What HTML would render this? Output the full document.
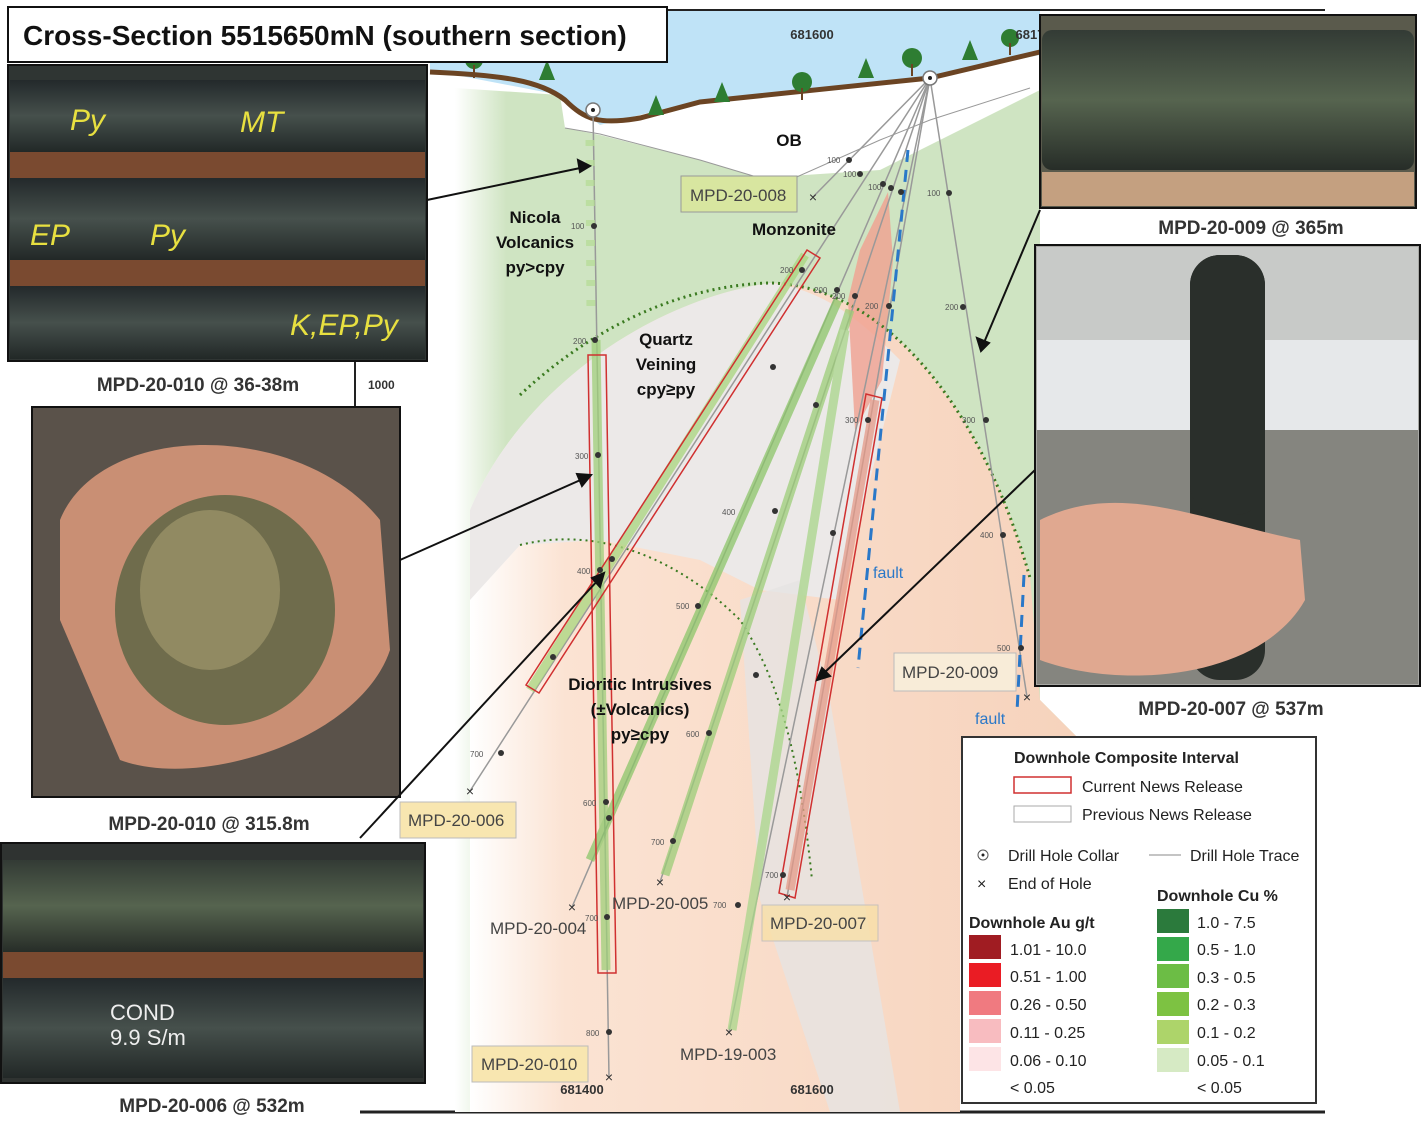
<!DOCTYPE html>
<html><head><meta charset="utf-8"><style>
html,body{margin:0;padding:0;background:#fff}
svg{display:block}
text{font-family:"Liberation Sans",sans-serif}
</style></head><body>
<svg width="1422" height="1130" viewBox="0 0 1422 1130" xmlns="http://www.w3.org/2000/svg">
<defs>
<linearGradient id="gfade" x1="0" x2="1" y1="0" y2="0"><stop offset="0" stop-color="#fff"/><stop offset="0.08" stop-color="#cfe4c2"/><stop offset="1" stop-color="#cfe4c2"/></linearGradient>
<linearGradient id="ofade" x1="0" x2="1" y1="0" y2="0"><stop offset="0" stop-color="#fff"/><stop offset="0.15" stop-color="#fbe3d3"/><stop offset="1" stop-color="#f6d2bb"/></linearGradient>
<linearGradient id="core" x1="0" y1="0" x2="0" y2="1"><stop offset="0" stop-color="#23292b"/><stop offset="0.5" stop-color="#46504c"/><stop offset="1" stop-color="#222827"/></linearGradient>
<linearGradient id="core2" x1="0" y1="0" x2="0" y2="1"><stop offset="0" stop-color="#333b35"/><stop offset="0.5" stop-color="#56644f"/><stop offset="1" stop-color="#272d28"/></linearGradient>
</defs>
<line x1="430" y1="10" x2="1325" y2="10" stroke="#222" stroke-width="2"/>
<line x1="360" y1="1112" x2="1325" y2="1112" stroke="#222" stroke-width="3"/>
<line x1="355" y1="360" x2="355" y2="407" stroke="#222" stroke-width="2"/>
<path d="M430 11 H1040 V55 L930 78 L700 100 L600 125 L560 95 L430 70 Z" fill="#bfe3f7"/>
<path d="M455 88 L560 95 L600 125 L700 100 L930 78 L1040 55 V700 L1100 760 H960 V1112 H455 Z" fill="url(#gfade)"/>
<path d="M560 95 L600 125 L700 100 L930 78 L1040 55 L1040 90 L880 170 L760 178 L700 160 L600 135 L565 128 Z" fill="#fff"/>
<path d="M470 510 C520 390 650 300 770 283 C880 285 980 400 1030 575 L1040 700 L1100 760 H960 V1112 H470 Z" fill="url(#ofade)"/>
<path d="M470 510 C520 390 650 300 770 283 C830 290 870 330 900 360 L840 600 L760 590 L700 560 L600 540 L520 545 L470 600 Z" fill="#ece9e8"/>
<path d="M740 600 L800 580 L830 700 L900 1112 H830 L760 900 Z" fill="#e6e3e2" opacity="0.8"/>
<path d="M430 72 C500 75 540 80 565 100 C585 120 600 125 640 118 L700 102 L930 78 L1040 52" fill="none" stroke="#6b4423" stroke-width="5"/>
<g fill="#2e7d32">
<polygon points="547,60 539,80 555,80"/><polygon points="656,95 648,115 664,115"/><polygon points="722,82 714,102 730,102"/><polygon points="866,58 858,78 874,78"/><polygon points="970,40 962,60 978,60"/>
<circle cx="474" cy="60" r="9"/><circle cx="802" cy="82" r="10"/><circle cx="912" cy="58" r="10"/><circle cx="1010" cy="38" r="9"/>
</g>
<g stroke="#6b4423" stroke-width="2"><line x1="474" y1="65" x2="474" y2="78"/><line x1="802" y1="88" x2="802" y2="100"/><line x1="912" y1="64" x2="912" y2="76"/><line x1="1010" y1="43" x2="1010" y2="55"/></g>
<path d="M565 128 L600 134 L700 160 L760 178 L790 180 L880 140 L930 120 L1030 88" fill="none" stroke="#999" stroke-width="1"/>
<polygon points="860,250 888,192 893,260 882,380 855,430 848,300" fill="#f0a090" opacity="0.8"/>
<path d="M520 395 C600 320 690 285 770 283 C880 285 980 400 1030 578" fill="none" stroke="#3a7a20" stroke-width="3" stroke-dasharray="2 4"/>
<path d="M520 545 C600 525 680 560 740 620 C780 680 800 760 812 880" fill="none" stroke="#3a7a20" stroke-width="2" stroke-dasharray="2 4"/>
<g stroke="#999" stroke-width="1.5" fill="none">
<line x1="593" y1="110" x2="609" y2="1077"/>
<line x1="930" y1="78" x2="813" y2="197"/>
<line x1="930" y1="78" x2="470" y2="791"/>
<line x1="930" y1="78" x2="572" y2="907"/>
<line x1="930" y1="78" x2="660" y2="882"/>
<line x1="930" y1="78" x2="729" y2="1032"/>
<line x1="930" y1="78" x2="787" y2="897"/>
<line x1="930" y1="78" x2="1027" y2="697"/>
</g>
<g stroke-width="9" stroke-linecap="butt" opacity="0.75">
<line x1="596" y1="340" x2="606" y2="970" stroke="#9fcf7a"/>
<line x1="805" y1="255" x2="530" y2="690" stroke="#a9d67e"/>
<line x1="838" y1="300" x2="590" y2="860" stroke="#8cc66a"/>
<line x1="850" y1="310" x2="665" y2="875" stroke="#9ccd78"/>
<line x1="845" y1="330" x2="732" y2="1030" stroke="#a9d68a"/>
<line x1="875" y1="400" x2="790" y2="890" stroke="#e59a88"/>
<line x1="590" y1="140" x2="591" y2="320" stroke="#b6dc96" stroke-dasharray="6 14"/>
</g>
<g fill="none" stroke="#d03030" stroke-width="1.5">
<polygon points="807,250 820,258 539,693 526,685"/>
<polygon points="588,355 606,355 616,973 598,973"/>
<polygon points="866,394 882,398 795,898 779,893"/>
</g>
<line x1="908" y1="150" x2="858" y2="668" stroke="#2a78c8" stroke-width="3" stroke-dasharray="12 8"/>
<line x1="1024" y1="575" x2="1017" y2="712" stroke="#2a78c8" stroke-width="3" stroke-dasharray="12 8"/>
<text x="873" y="578" font-size="16" fill="#2a78c8">fault</text>
<text x="975" y="724" font-size="16" fill="#2a78c8">fault</text>
<g fill="#fff" stroke="#777" stroke-width="1.5"><circle cx="593" cy="110" r="7"/><circle cx="930" cy="78" r="7"/></g>
<circle cx="593" cy="110" r="2" fill="#222"/><circle cx="930" cy="78" r="2" fill="#222"/>
<g fill="#333">
<circle cx="594" cy="226" r="3"/><circle cx="595" cy="340" r="3"/><circle cx="598" cy="455" r="3"/><circle cx="600" cy="570" r="3"/><circle cx="606" cy="802" r="3"/><circle cx="607" cy="917" r="3"/><circle cx="609" cy="1032" r="3"/>
<circle cx="849" cy="160" r="3"/><circle cx="860" cy="174" r="3"/><circle cx="883" cy="184" r="3"/><circle cx="891" cy="188" r="3"/><circle cx="901" cy="192" r="3"/><circle cx="949" cy="193" r="3"/>
<circle cx="802" cy="270" r="3"/><circle cx="773" cy="367" r="3"/><circle cx="612" cy="559" r="3"/><circle cx="553" cy="657" r="3"/><circle cx="501" cy="753" r="3"/>
<circle cx="837" cy="290" r="3"/><circle cx="816" cy="405" r="3"/><circle cx="698" cy="606" r="3"/><circle cx="609" cy="818" r="3"/>
<circle cx="855" cy="296" r="3"/><circle cx="775" cy="511" r="3"/><circle cx="709" cy="733" r="3"/><circle cx="673" cy="841" r="3"/>
<circle cx="889" cy="306" r="3"/><circle cx="833" cy="533" r="3"/><circle cx="756" cy="675" r="3"/><circle cx="738" cy="905" r="3"/>
<circle cx="868" cy="420" r="3"/><circle cx="783" cy="875" r="3"/>
<circle cx="963" cy="307" r="3"/><circle cx="986" cy="420" r="3"/><circle cx="1003" cy="535" r="3"/><circle cx="1021" cy="648" r="3"/>
</g>
<g font-size="8" fill="#555">
<text x="571" y="229">100</text><text x="573" y="344">200</text><text x="575" y="459">300</text><text x="577" y="574">400</text><text x="583" y="806">600</text><text x="585" y="921">700</text><text x="586" y="1036">800</text>
<text x="827" y="163">100</text><text x="843" y="177">100</text><text x="868" y="190">100</text><text x="927" y="196">100</text>
<text x="780" y="273">200</text><text x="814" y="293">200</text><text x="832" y="299">200</text><text x="865" y="309">200</text><text x="945" y="310">200</text>
<text x="470" y="757">700</text><text x="676" y="609">500</text><text x="722" y="515">400</text><text x="962" y="423">300</text><text x="980" y="538">400</text><text x="997" y="651">500</text>
<text x="686" y="737">600</text><text x="651" y="845">700</text><text x="713" y="908">700</text><text x="765" y="878">700</text><text x="845" y="423">300</text>
</g>
<g font-size="14" fill="#333" text-anchor="middle">
<text x="813" y="202">×</text><text x="470" y="796">×</text><text x="572" y="912">×</text><text x="660" y="887">×</text><text x="729" y="1037">×</text><text x="787" y="902">×</text><text x="1027" y="702">×</text><text x="609" y="1082">×</text>
</g>
<g font-size="13" font-weight="bold" fill="#333" text-anchor="middle">
<text x="812" y="39">681600</text><text x="1030" y="39">6817</text><text x="582" y="1094">681400</text><text x="812" y="1094">681600</text>
</g>
<text x="368" y="389" font-size="12" font-weight="bold" fill="#333">1000</text>
<g font-size="17" font-weight="bold" fill="#111" text-anchor="middle">
<text x="789" y="146">OB</text>
<text x="535" y="223">Nicola</text><text x="535" y="248">Volcanics</text><text x="535" y="273">py&gt;cpy</text>
<text x="794" y="235">Monzonite</text>
<text x="666" y="345">Quartz</text><text x="666" y="370">Veining</text><text x="666" y="395">cpy≥py</text>
<text x="640" y="690">Dioritic Intrusives</text><text x="640" y="715">(±Volcanics)</text><text x="640" y="740">py≥cpy</text>
</g>
<g font-size="17" fill="#444">
<rect x="681" y="176" width="116" height="36" fill="#d8e6a0" stroke="#999"/><text x="690" y="201">MPD-20-008</text>
<rect x="400" y="802" width="116" height="36" fill="#f8e6b0" stroke="#bbb"/><text x="408" y="826">MPD-20-006</text>
<rect x="472" y="1046" width="116" height="36" fill="#f8e6b0" stroke="#bbb"/><text x="481" y="1070">MPD-20-010</text>
<rect x="762" y="905" width="116" height="36" fill="#f8e0a8" stroke="#bbb" opacity="0.8"/><text x="770" y="929">MPD-20-007</text>
<rect x="894" y="653" width="122" height="38" fill="#f8ecd8" stroke="#bbb"/><text x="902" y="678">MPD-20-009</text>
<text x="490" y="934">MPD-20-004</text><text x="612" y="909">MPD-20-005</text><text x="680" y="1060">MPD-19-003</text>
</g>
<!-- photo 1 -->
<rect x="8" y="65" width="419" height="296" fill="#2f3533" stroke="#111" stroke-width="2"/>
<rect x="10" y="80" width="415" height="72" fill="url(#core)"/><rect x="10" y="152" width="415" height="26" fill="#7a4a30"/>
<rect x="10" y="178" width="415" height="82" fill="url(#core)"/><rect x="10" y="260" width="415" height="26" fill="#7a4a30"/>
<rect x="10" y="286" width="415" height="73" fill="url(#core)"/>
<g font-size="30" fill="#e8e040" font-style="italic"><text x="70" y="130">Py</text><text x="240" y="132">MT</text><text x="30" y="245">EP</text><text x="150" y="245">Py</text><text x="290" y="335">K,EP,Py</text></g>
<!-- photo 2 -->
<rect x="32" y="407" width="368" height="390" fill="#5a524a" stroke="#111" stroke-width="2"/>
<path d="M60 520 C100 420 300 420 380 520 L390 650 C360 740 200 790 120 760 L60 620 Z" fill="#c98f74"/>
<ellipse cx="225" cy="610" rx="110" ry="115" fill="#6f6c4c"/>
<ellipse cx="210" cy="590" rx="70" ry="80" fill="#9a9268" opacity="0.8"/>
<!-- photo 3 -->
<rect x="1" y="843" width="424" height="240" fill="#2f3331" stroke="#111" stroke-width="2"/>
<rect x="3" y="860" width="420" height="92" fill="url(#core2)"/><rect x="3" y="952" width="420" height="26" fill="#7a4a30"/>
<rect x="3" y="978" width="420" height="100" fill="url(#core)"/>
<text x="110" y="1020" font-size="22" fill="#eee">COND</text><text x="110" y="1045" font-size="22" fill="#eee">9.9 S/m</text>
<!-- photo 4 -->
<rect x="1040" y="15" width="376" height="193" fill="#5a5a4c" stroke="#111" stroke-width="2"/>
<rect x="1042" y="30" width="372" height="140" rx="10" fill="url(#core2)"/><rect x="1042" y="172" width="372" height="34" fill="#c4a080"/>
<!-- photo 5 -->
<rect x="1035" y="245" width="385" height="441" fill="#a8a8a4" stroke="#111" stroke-width="2"/>
<rect x="1037" y="247" width="381" height="140" fill="#c8cac8"/>
<rect x="1037" y="340" width="381" height="90" fill="#e6e8ea"/>
<rect x="1037" y="430" width="381" height="254" fill="#85857f"/>
<rect x="1190" y="255" width="75" height="425" rx="30" fill="#2a2f2b"/>
<path d="M1040 520 C1120 480 1200 520 1300 540 L1305 600 C1260 680 1120 690 1040 660 Z" fill="#e0a890"/>
<rect x="1190" y="255" width="75" height="260" rx="30" fill="#2a2f2b"/>
<g stroke="#111" stroke-width="2" fill="#111">
<line x1="427" y1="200" x2="585" y2="167"/><polygon points="590,166 578,160 580,172"/>
<line x1="400" y1="560" x2="585" y2="478"/><polygon points="591,475 577,474 582,486"/>
<line x1="360" y1="838" x2="600" y2="578"/><polygon points="604,573 592,578 600,587"/>
<line x1="1040" y1="210" x2="983" y2="345"/><polygon points="981,351 977,338 989,343"/>
<line x1="1035" y1="470" x2="822" y2="675"/><polygon points="817,680 822,668 830,676"/>
</g>
<g font-size="19" font-weight="bold" fill="#333" text-anchor="middle">
<text x="198" y="391">MPD-20-010 @ 36-38m</text>
<text x="209" y="830">MPD-20-010 @ 315.8m</text>
<text x="212" y="1112">MPD-20-006 @ 532m</text>
<text x="1251" y="234">MPD-20-009 @ 365m</text>
<text x="1231" y="715">MPD-20-007 @ 537m</text>
</g>
<rect x="8" y="7" width="659" height="55" fill="#fff" stroke="#111" stroke-width="2"/>
<text x="23" y="45" font-size="28" font-weight="bold" fill="#111">Cross-Section 5515650mN (southern section)</text>
<rect x="962" y="737" width="354" height="366" fill="#fff" stroke="#333" stroke-width="2"/>
<g font-size="16" fill="#222">
<text x="1014" y="763" font-weight="bold">Downhole Composite Interval</text>
<rect x="1014" y="777" width="57" height="16" fill="none" stroke="#d03030" stroke-width="1.5"/><text x="1082" y="792">Current News Release</text>
<rect x="1014" y="806" width="57" height="16" fill="none" stroke="#aaa"/><text x="1082" y="820">Previous News Release</text>
<circle cx="983" cy="855" r="5" fill="none" stroke="#555"/><circle cx="983" cy="855" r="1.5" fill="#222"/><text x="1008" y="861">Drill Hole Collar</text>
<line x1="1149" y1="855" x2="1181" y2="855" stroke="#888"/><text x="1190" y="861">Drill Hole Trace</text>
<text x="977" y="889">×</text><text x="1008" y="889">End of Hole</text>
<text x="1157" y="901" font-weight="bold">Downhole Cu %</text>
<text x="969" y="928" font-weight="bold">Downhole Au g/t</text>
<rect x="969" y="935" width="32" height="24" fill="#a01c22"/><text x="1010" y="955">1.01 - 10.0</text>
<rect x="969" y="963" width="32" height="24" fill="#ea1c24"/><text x="1010" y="982">0.51 - 1.00</text>
<rect x="969" y="991" width="32" height="24" fill="#f07a80"/><text x="1010" y="1010">0.26 - 0.50</text>
<rect x="969" y="1019" width="32" height="24" fill="#f8bcc0"/><text x="1010" y="1038">0.11 - 0.25</text>
<rect x="969" y="1047" width="32" height="24" fill="#fde4e6"/><text x="1010" y="1066">0.06 - 0.10</text>
<text x="1010" y="1093">&lt; 0.05</text>
<rect x="1157" y="909" width="32" height="24" fill="#2b7a3c"/><text x="1197" y="928">1.0 - 7.5</text>
<rect x="1157" y="937" width="32" height="24" fill="#34a84a"/><text x="1197" y="955">0.5 - 1.0</text>
<rect x="1157" y="964" width="32" height="24" fill="#6cbd45"/><text x="1197" y="983">0.3 - 0.5</text>
<rect x="1157" y="992" width="32" height="24" fill="#7dc242"/><text x="1197" y="1010">0.2 - 0.3</text>
<rect x="1157" y="1020" width="32" height="24" fill="#add46a"/><text x="1197" y="1038">0.1 - 0.2</text>
<rect x="1157" y="1048" width="32" height="24" fill="#d6eac4"/><text x="1197" y="1066">0.05 - 0.1</text>
<text x="1197" y="1093">&lt; 0.05</text>
</g>
</svg>
</body></html>
